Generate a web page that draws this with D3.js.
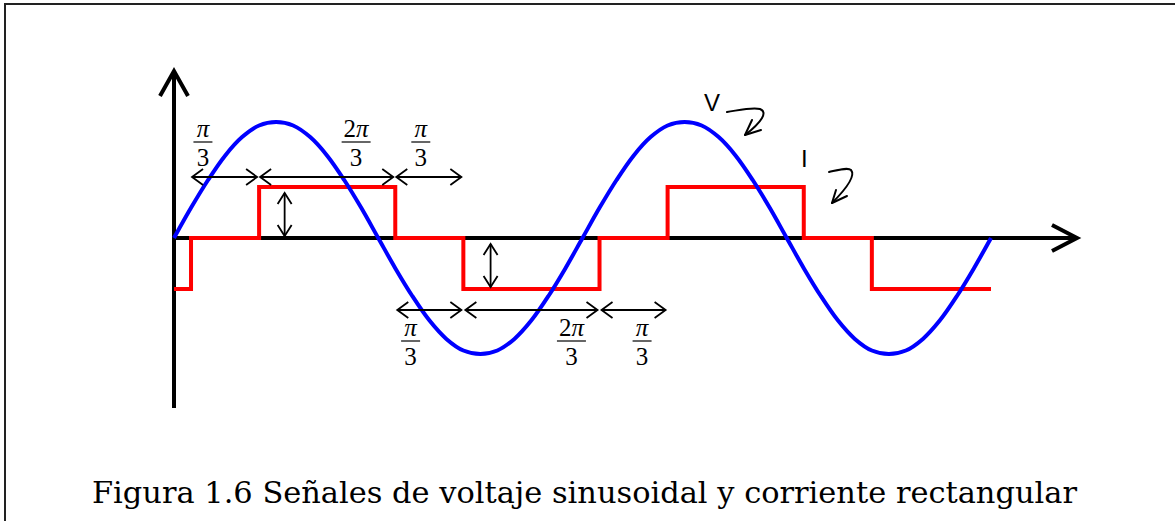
<!DOCTYPE html>
<html><head><meta charset="utf-8">
<script src="https://cdn.jsdelivr.net/npm/d3@7"></script>
<style>html,body{margin:0;padding:0;background:#fff;}svg{display:block;}</style>
</head><body>
<script>
// Phase samples, in twelfths of π (0 … 4π)
const phaseTwelfths = [0,1,2,3,4,5,6,7,8,9,10,11,12,13,14,15,16,17,18,19,20,21,22,23,24,
  25,26,27,28,29,30,31,32,33,34,35,36,37,38,39,40,41,42,43,44,45,46,47,48];
// Voltage V (normalised)
const voltage = [0,0.26,0.5,0.71,0.87,0.97,1,0.97,0.87,0.71,0.5,0.26,0,
  -0.26,-0.5,-0.71,-0.87,-0.97,-1,-0.97,-0.87,-0.71,-0.5,-0.26,0,
  0.26,0.5,0.71,0.87,0.97,1,0.97,0.87,0.71,0.5,0.26,0,
  -0.26,-0.5,-0.71,-0.87,-0.97,-1,-0.97,-0.87,-0.71,-0.5,-0.26,0];
// Current I: step edges (twelfths of π) and level after each edge
const currentEdges  = [0, 1, 5, 13, 17, 25, 29, 37, 41, 48];
const currentLevels = [-0.44, 0, 0.44, 0, -0.44, 0, 0.44, 0, -0.44, -0.44];
// Width annotations (twelfths of π)
const topSpans    = [[1,5],[5,13],[13,17]];
const topLabels   = [["","π","3",1.7],["2","π","3",10.7],["","π","3",14.5]];
const bottomSpans = [[13,17],[17,25],[25,29]];
const bottomLabels= [["","π","3",13.9],["2","π","3",23.35],["","π","3",27.5]];
const ampArrows = [[6.5, 0, 0.44],[18.6, 0, -0.44]];
const caption = "Figura 1.6 Señales de voltaje sinusoidal y corriente rectangular";

const W = 1175, H = 521;
const svg = d3.select("body").append("svg").attr("width", W).attr("height", H);

const x = d3.scaleLinear().domain([0, 48]).range([174, 991]);
const y = d3.scaleLinear().domain([-1, 1]).range([354, 122]);

// frame
svg.append("path").attr("d", `M5,${H} V4 H${W}`).attr("fill","none")
  .attr("stroke","#222").attr("stroke-width",2);

// axes
const ax = svg.append("g").attr("stroke","#000").attr("stroke-width",4)
  .attr("fill","none").attr("stroke-linecap","butt");
ax.append("line").attr("x1", x(0)).attr("x2", x(0)).attr("y1", 408).attr("y2", 71);
ax.append("path").attr("d", `M${x(0)-14},96 L${x(0)},71 L${x(0)+14},96`).attr("stroke-linejoin","miter");
ax.append("line").attr("x1", x(0)).attr("x2", 1077).attr("y1", y(0)).attr("y2", y(0));
ax.append("path").attr("d", `M1052,${y(0)-13} L1077,${y(0)} L1052,${y(0)+13}`);

// current
const curPts = currentEdges.map((e,i)=>[e, currentLevels[i]]);
svg.append("path").datum(curPts)
  .attr("d", d3.line().x(d=>x(d[0])).y(d=>y(d[1])).curve(d3.curveStepAfter))
  .attr("fill","none").attr("stroke","#ff0000").attr("stroke-width",4);

// voltage
svg.append("path").datum(phaseTwelfths.map((p,i)=>[p, voltage[i]]))
  .attr("d", d3.line().x(d=>x(d[0])).y(d=>y(d[1])).curve(d3.curveCatmullRom.alpha(0.5)))
  .attr("fill","none").attr("stroke","#0000ff").attr("stroke-width",4);

// dimension arrows
const dim = svg.append("g").attr("stroke","#000").attr("stroke-width",1.8).attr("fill","none");
function hArrow(x1, x2, yy){
  dim.append("line").attr("x1",x1).attr("x2",x2).attr("y1",yy).attr("y2",yy);
  dim.append("path").attr("d",`M${x1+11},${yy-8} L${x1},${yy} L${x1+11},${yy+8}`);
  dim.append("path").attr("d",`M${x2-11},${yy-8} L${x2},${yy} L${x2-11},${yy+8}`);
}
function vArrow(xx, y1, y2){
  dim.append("line").attr("x1",xx).attr("x2",xx).attr("y1",y1).attr("y2",y2);
  dim.append("path").attr("d",`M${xx-7},${y1+11} L${xx},${y1} L${xx+7},${y1+11}`);
  dim.append("path").attr("d",`M${xx-7},${y2-11} L${xx},${y2} L${xx+7},${y2-11}`);
}
const yTop = 177, yBot = 310;
topSpans.forEach(s=>hArrow(x(s[0])+1, x(s[1])-2, yTop));
bottomSpans.forEach(s=>hArrow(x(s[0])+2, x(s[1])-2, yBot));
ampArrows.forEach(a=>{
  const ya = y(a[1]), yb = y(a[2]);
  vArrow(x(a[0]), Math.min(ya,yb) + 6, Math.max(ya,yb) - 2);
});

// fractions
function frac(coef, sym, den, xc, yNumBase){
  const g = svg.append("g").attr("font-family","'Liberation Serif','Times New Roman',serif")
    .attr("font-size",25).attr("text-anchor","middle").attr("fill","#000");
  const t = g.append("text").attr("x",xc).attr("y",yNumBase);
  if (coef) t.append("tspan").text(coef);
  t.append("tspan").attr("font-style","italic").text(sym);
  const w = coef ? 29 : 19;
  g.append("line").attr("x1",xc-w/2).attr("x2",xc+w/2).attr("y1",yNumBase+5).attr("y2",yNumBase+5)
    .attr("stroke","#000").attr("stroke-width",1.2);
  g.append("text").attr("x",xc).attr("y",yNumBase+29).text(den);
}
topLabels.forEach(l=>frac(l[0], l[1], l[2], x(l[3]), 137));
bottomLabels.forEach(l=>frac(l[0], l[1], l[2], x(l[3]), 336));

// V and I labels with curly arrows
const lab = svg.append("g").attr("font-family","'Liberation Sans',Arial,sans-serif")
  .attr("font-size",24).attr("fill","#000");
lab.append("text").attr("x",704).attr("y",111).text("V");
lab.append("text").attr("x",801).attr("y",167).text("I");
const cur = svg.append("g").attr("stroke","#000").attr("stroke-width",2).attr("fill","none")
  .attr("stroke-linecap","round").attr("stroke-linejoin","round");
cur.append("path").attr("d","M727,112 C740,110 752,107 760,109 C768,112 762,122 745,135");
cur.append("path").attr("d","M752,120 L745,135 L761,130");
cur.append("path").attr("d","M829,172 C838,170 848,167 851,170 C856,176 845,190 832,203");
cur.append("path").attr("d","M836,190 L832,203 L847,196");

// caption
svg.append("text").attr("x",92).attr("y",503)
  .attr("font-family","'DejaVu Serif','Liberation Serif',serif").attr("font-size",29)
  .attr("textLength",985).attr("lengthAdjust","spacingAndGlyphs")
  .attr("fill","#000").text(caption);
</script>
</body></html>
